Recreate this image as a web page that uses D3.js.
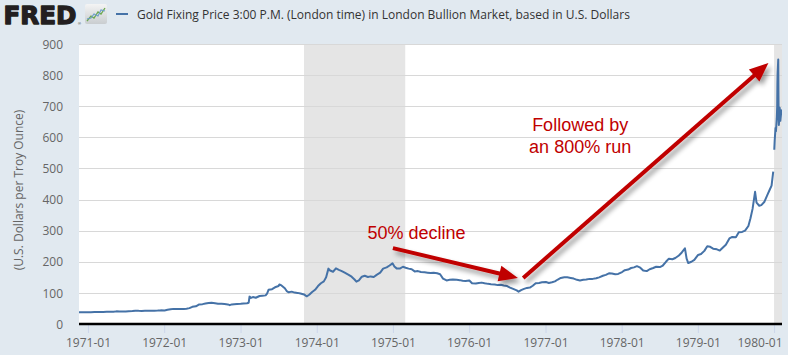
<!DOCTYPE html>
<html>
<head>
<meta charset="utf-8">
<script src="https://cdn.jsdelivr.net/npm/d3@7"></script>
<style>
  html, body { margin: 0; padding: 0; background: #e1e9f0; }
  svg { display: block; }
</style>
</head>
<body>
<svg id="chart" width="788" height="355"></svg>
<script>
// ---------- DATA ----------
const seriesTitle = "Gold Fixing Price 3:00 P.M. (London time) in London Bullion Market, based in U.S. Dollars";
const yAxisTitle = "(U.S. Dollars per Troy Ounce)";
const yTicks = [0, 100, 200, 300, 400, 500, 600, 700, 800, 900];
const xTickYears = [1971, 1972, 1973, 1974, 1975, 1976, 1977, 1978, 1979, 1980];
const recessions = [["1973-11-01", "1975-03-01"], ["1980-01-01", "1980-07-01"]];

const dates = [
  "1970-11-19","1970-12-01","1970-12-15","1971-01-04","1971-01-15","1971-02-01","1971-02-15","1971-03-01","1971-03-15",
  "1971-04-01","1971-04-15","1971-05-03","1971-05-17","1971-06-01","1971-06-15","1971-07-01","1971-07-15","1971-08-02",
  "1971-08-16","1971-09-01","1971-09-15","1971-10-01","1971-10-15","1971-11-01","1971-11-15","1971-12-01","1971-12-15",
  "1972-01-03","1972-01-17","1972-02-01","1972-02-15","1972-03-01","1972-03-15","1972-04-04","1972-04-17","1972-05-01",
  "1972-05-15","1972-06-01","1972-06-15","1972-07-03","1972-07-17","1972-08-01","1972-08-15","1972-09-01","1972-09-15",
  "1972-10-02","1972-10-16","1972-11-01","1972-11-10","1972-11-20","1972-12-01","1972-12-15",
  "1973-01-02","1973-01-15","1973-02-01","1973-02-09","1973-02-13","1973-02-20","1973-03-01","1973-03-15","1973-04-02",
  "1973-04-16","1973-05-01","1973-05-08","1973-05-15","1973-06-01","1973-06-15","1973-07-02","1973-07-06","1973-07-16",
  "1973-08-01","1973-08-10","1973-08-20","1973-09-03","1973-09-17","1973-10-01","1973-10-15","1973-11-01","1973-11-14",
  "1973-11-26","1973-12-10","1973-12-24",
  "1974-01-07","1974-01-21","1974-02-04","1974-02-15","1974-02-26","1974-03-06","1974-03-20","1974-04-03","1974-04-17",
  "1974-05-01","1974-05-15","1974-06-03","1974-06-17","1974-07-01","1974-07-10","1974-07-22","1974-08-05","1974-08-19",
  "1974-09-03","1974-09-16","1974-10-01","1974-10-15","1974-11-01","1974-11-15","1974-12-02","1974-12-16","1974-12-30",
  "1975-01-08","1975-01-20","1975-02-03","1975-02-18","1975-03-03","1975-03-17","1975-04-01","1975-04-15","1975-05-01",
  "1975-05-15","1975-06-02","1975-06-16","1975-07-01","1975-07-15","1975-08-01","1975-08-15","1975-08-29","1975-09-15",
  "1975-09-30","1975-10-15","1975-11-03","1975-11-17","1975-12-01","1975-12-15",
  "1976-01-02","1976-01-15","1976-02-02","1976-02-16","1976-03-01","1976-03-15","1976-04-01","1976-04-15","1976-05-03",
  "1976-05-17","1976-06-01","1976-06-15","1976-07-01","1976-07-15","1976-08-02","1976-08-16","1976-08-25","1976-09-06",
  "1976-09-20","1976-10-04","1976-10-18","1976-11-01","1976-11-15","1976-12-01","1976-12-15",
  "1977-01-03","1977-01-17","1977-02-01","1977-02-15","1977-03-01","1977-03-15","1977-04-01","1977-04-15","1977-05-02",
  "1977-05-16","1977-06-01","1977-06-15","1977-07-01","1977-07-15","1977-08-01","1977-08-15","1977-09-01","1977-09-15",
  "1977-10-03","1977-10-17","1977-11-01","1977-11-15","1977-12-01","1977-12-15",
  "1978-01-03","1978-01-16","1978-02-01","1978-02-15","1978-03-01","1978-03-15","1978-03-31","1978-04-14","1978-05-01",
  "1978-05-15","1978-06-01","1978-06-15","1978-07-03","1978-07-17","1978-08-01","1978-08-15","1978-09-01","1978-09-15",
  "1978-10-02","1978-10-16","1978-10-31","1978-11-08","1978-11-16","1978-12-01","1978-12-15",
  "1979-01-02","1979-01-16","1979-02-01","1979-02-15","1979-03-01","1979-03-15","1979-04-02","1979-04-16","1979-05-01",
  "1979-05-15","1979-06-01","1979-06-15","1979-07-02","1979-07-16","1979-08-01","1979-08-15","1979-08-31","1979-09-10",
  "1979-09-20","1979-10-02","1979-10-09","1979-10-22","1979-11-01","1979-11-15","1979-11-30","1979-12-10","1979-12-20",
  "1979-12-28","1980-01-01","1980-01-02","1980-01-04","1980-01-08","1980-01-10","1980-01-14","1980-01-16","1980-01-17",
  "1980-01-18","1980-01-21","1980-01-22","1980-01-23","1980-01-24","1980-01-28","1980-01-31","1980-02-04","1980-02-07"
];
const prices = [
  37.6,37.4,37.5,37.4,37.9,38.3,38.8,38.8,38.9,
  39.0,39.2,39.5,40.6,40.4,40.1,40.3,41.2,41.9,
  42.9,42.2,42.0,42.4,42.6,42.7,42.9,43.2,43.8,
  43.6,45.8,47.2,48.6,48.0,48.4,48.6,49.3,51.0,
  55.2,57.0,62.5,63.8,66.0,67.8,68.2,66.5,65.0,
  64.8,64.2,62.9,60.5,63.0,63.5,64.2,
  65.0,65.8,66.8,68.5,88.0,84.0,86.5,84.3,90.0,
  91.0,92.0,98.0,110.0,112.0,118.0,122.0,127.0,124.0,
  115.0,106.0,102.0,104.0,101.0,100.0,98.0,95.0,89.0,
  94.0,103.0,110.0,
  122.0,131.0,137.0,150.0,178.0,172.0,168.0,179.0,174.0,
  170.0,165.0,158.0,152.0,143.0,136.0,140.0,152.0,155.0,
  151.0,153.0,151.0,158.0,165.0,178.0,182.0,188.0,195.0,
  185.0,178.0,178.0,184.0,181.0,178.0,176.0,169.0,170.0,
  167.0,166.0,165.0,164.0,165.0,163.0,160.0,146.0,140.0,
  142.0,143.0,142.0,141.0,139.0,138.0,
  140.0,131.0,130.0,132.0,133.0,131.0,129.0,128.0,127.0,
  125.0,126.0,124.0,122.0,117.0,112.0,108.0,104.0,109.0,
  113.0,116.0,117.0,123.0,131.0,132.0,134.0,
  135.0,132.0,134.0,137.0,143.0,148.0,150.0,150.0,148.0,
  146.0,142.0,140.0,142.0,143.0,145.0,145.0,147.0,150.0,
  155.0,158.0,163.0,162.0,160.0,161.0,
  167.0,173.0,175.0,180.0,182.0,186.0,181.0,172.0,170.0,
  176.0,180.0,184.0,183.0,188.0,200.0,210.0,208.0,212.0,
  220.0,230.0,243.0,210.0,196.0,200.0,206.0,
  222.0,225.0,235.0,250.0,248.0,242.0,240.0,236.0,246.0,
  255.0,275.0,280.0,279.0,295.0,296.0,300.0,315.0,340.0,
  370.0,425.0,390.0,380.0,382.0,392.0,415.0,430.0,445.0,
  490.0,null,560.0,590.0,630.0,620.0,660.0,700.0,770.0,
  805.0,850.0,737.0,668.0,640.0,695.0,653.0,680.0,690.0
];

// annotations (anchored in data space)
const noteDecline = { text: "50% decline", date: "1974-09-01", value: 273 };
const noteRun = { lines: ["Followed by", "an 800% run"], date: "1977-06-16", values: [620, 550] };
const arrows = [
  { from: ["1975-01-01", 244], to: ["1976-08-22", 148] },
  { from: ["1976-09-16", 148], to: ["1979-12-05", 839] }
];

// ---------- CHART ----------
const parse = d3.utcParse("%Y-%m-%d");
const data = dates.map((d, i) => ({ date: parse(d), value: prices[i] }));

const svg = d3.select("#chart");
const W = 788, H = 355;
const plot = { left: 79, right: 782, top: 44, bottom: 324 };

svg.append("rect").attr("width", W).attr("height", H).attr("fill", "#e1e9f0");

const x = d3.scaleUtc()
  .domain([parse("1970-11-19"), parse("1980-02-08")])
  .range([plot.left, plot.right]);
const y = d3.scaleLinear().domain([0, 900]).range([plot.bottom, plot.top]);

const defs = svg.append("defs");
defs.append("clipPath").attr("id", "clip")
  .append("rect").attr("x", plot.left).attr("y", plot.top)
  .attr("width", plot.right - plot.left).attr("height", plot.bottom - plot.top);

const shadow = defs.append("filter").attr("id", "shadow")
  .attr("x", "-20%").attr("y", "-20%").attr("width", "140%").attr("height", "140%");
shadow.append("feGaussianBlur").attr("in", "SourceAlpha").attr("stdDeviation", 2.4).attr("result", "blur");
shadow.append("feOffset").attr("in", "blur").attr("dx", 3).attr("dy", 4).attr("result", "off");
shadow.append("feComponentTransfer").attr("in", "off").attr("result", "offa")
  .append("feFuncA").attr("type", "linear").attr("slope", 0.4);
const merge = shadow.append("feMerge");
merge.append("feMergeNode").attr("in", "offa");
merge.append("feMergeNode").attr("in", "SourceGraphic");

// plot background
svg.append("rect").attr("x", plot.left).attr("y", plot.top)
  .attr("width", plot.right - plot.left).attr("height", plot.bottom - plot.top)
  .attr("fill", "#ffffff");

// recession shading
svg.append("g").attr("clip-path", "url(#clip)")
  .selectAll("rect").data(recessions).join("rect")
  .attr("x", d => x(parse(d[0])))
  .attr("width", d => Math.max(0, Math.min(x(parse(d[1])), plot.right) - x(parse(d[0]))))
  .attr("y", plot.top).attr("height", plot.bottom - plot.top)
  .attr("fill", "#e5e5e5");

// gridlines
svg.append("g").selectAll("line").data(yTicks.filter(t => t > 0)).join("line")
  .attr("x1", plot.left).attr("x2", plot.right)
  .attr("y1", d => Math.round(y(d)) + 0.5).attr("y2", d => Math.round(y(d)) + 0.5)
  .attr("stroke", "#d8d8d8").attr("stroke-width", 1);

// y-axis labels
const yAxis = d3.axisLeft(y).tickValues(yTicks).tickSize(0).tickPadding(0);
const gy = svg.append("g").attr("transform", `translate(${plot.left - 16},0)`).call(yAxis);
gy.select(".domain").remove();
gy.selectAll("text").attr("font-family", "'Open Sans', sans-serif").attr("font-size", 12)
  .attr("fill", "#666666").attr("dy", "0.35em");

svg.append("text")
  .attr("transform", `translate(23,${(plot.top + plot.bottom) / 2 + 6}) rotate(-90)`)
  .attr("text-anchor", "middle")
  .attr("font-family", "'Open Sans', sans-serif").attr("font-size", 12)
  .attr("fill", "#666666").text(yAxisTitle);

// x-axis
const xAxis = d3.axisBottom(x)
  .tickValues(xTickYears.map(yr => new Date(Date.UTC(yr, 0, 1))))
  .tickFormat(d3.utcFormat("%Y-%m")).tickSize(9).tickPadding(5);
const gx = svg.append("g").attr("transform", `translate(0,${plot.bottom})`).call(xAxis);
gx.select(".domain").remove();
gx.selectAll(".tick line").attr("stroke", "#ccd6eb");
gx.selectAll("text").attr("font-family", "'Open Sans', sans-serif").attr("font-size", 12)
  .attr("fill", "#666666");
// keep the last label inside the frame (as the reference does)
gx.selectAll(".tick").filter((d, i, n) => i === n.length - 1).select("text")
  .attr("text-anchor", "end").attr("x", d => (W - 6) - x(d));

// series line
const line = d3.line().defined(d => d.value != null)
  .x(d => x(d.date)).y(d => y(d.value));
svg.append("g").attr("clip-path", "url(#clip)")
  .append("path").datum(data)
  .attr("d", line).attr("fill", "none")
  .attr("stroke", "#4572a7").attr("stroke-width", 2).attr("stroke-linejoin", "round");

// baseline axis
svg.append("line").attr("x1", plot.left).attr("x2", plot.right)
  .attr("y1", plot.bottom).attr("y2", plot.bottom)
  .attr("stroke", "#000").attr("stroke-width", 2.5);

// ---------- ANNOTATIONS ----------
const red = "#c00000";
const ga = svg.append("g").attr("filter", "url(#shadow)");
arrows.forEach(a => {
  const p0 = [x(parse(a.from[0])), y(a.from[1])];
  const p1 = [x(parse(a.to[0])), y(a.to[1])];
  const dx = p1[0] - p0[0], dy = p1[1] - p0[1];
  const len = Math.hypot(dx, dy);
  const u = [dx / len, dy / len], n = [-u[1], u[0]];
  const L = 19, Wd = 8;
  const b = [p1[0] - u[0] * L, p1[1] - u[1] * L];
  ga.append("line").attr("x1", p0[0]).attr("y1", p0[1])
    .attr("x2", b[0] + u[0] * 2).attr("y2", b[1] + u[1] * 2)
    .attr("stroke", red).attr("stroke-width", 4);
  ga.append("path")
    .attr("d", `M${p1[0]},${p1[1]}L${b[0] + n[0] * Wd},${b[1] + n[1] * Wd}L${b[0] - n[0] * Wd},${b[1] - n[1] * Wd}Z`)
    .attr("fill", red);
});

svg.append("text").attr("x", x(parse(noteDecline.date))).attr("y", y(noteDecline.value))
  .attr("font-family", "'Liberation Sans', Arial, sans-serif").attr("font-size", 18)
  .attr("fill", red).text(noteDecline.text);

noteRun.lines.forEach((t, i) => {
  svg.append("text").attr("x", x(parse(noteRun.date))).attr("y", y(noteRun.values[i]))
    .attr("text-anchor", "middle")
    .attr("font-family", "'Liberation Sans', Arial, sans-serif").attr("font-size", 18)
    .attr("fill", red).text(t);
});

// ---------- HEADER ----------
const hdr = svg.append("g");
hdr.append("text").attr("x", 3.5).attr("y", 24)
  .attr("font-family", "'DejaVu Sans', sans-serif").attr("font-weight", "bold")
  .attr("font-size", 24).attr("fill", "#231f20")
  .attr("stroke", "#231f20").attr("stroke-width", 1.3).attr("stroke-linejoin", "round")
  .attr("textLength", 73).attr("lengthAdjust", "spacingAndGlyphs")
  .text("FRED");
hdr.append("text").attr("x", 78).attr("y", 25)
  .attr("font-family", "'Liberation Sans', Arial, sans-serif").attr("font-size", 4)
  .attr("fill", "#231f20").text("®");
// small chart icon
const icon = hdr.append("g").attr("transform", "translate(85,4)");
const grad = defs.append("linearGradient").attr("id", "ig").attr("x1", 0).attr("y1", 0).attr("x2", 0).attr("y2", 1);
grad.append("stop").attr("offset", 0).attr("stop-color", "#f4f4f4");
grad.append("stop").attr("offset", 1).attr("stop-color", "#c9cdd0");
icon.append("rect").attr("width", 22).attr("height", 20).attr("rx", 2).attr("fill", "url(#ig)");
icon.append("polyline").attr("points", "2,17 6,12 9,14 13,8 16,10 20,4")
  .attr("fill", "none").attr("stroke", "#6aa84f").attr("stroke-width", 1.3);
icon.append("polyline").attr("points", "2,15 6,14 9,10 13,12 16,6 20,7")
  .attr("fill", "none").attr("stroke", "#6d9ec8").attr("stroke-width", 1.1);

hdr.append("line").attr("x1", 116).attr("x2", 128).attr("y1", 14).attr("y2", 14)
  .attr("stroke", "#4572a7").attr("stroke-width", 2);
hdr.append("text").attr("x", 137).attr("y", 18.5)
  .attr("font-family", "'Open Sans', sans-serif").attr("font-size", 12)
  .attr("fill", "#333333").text(seriesTitle);
</script>
</body>
</html>
